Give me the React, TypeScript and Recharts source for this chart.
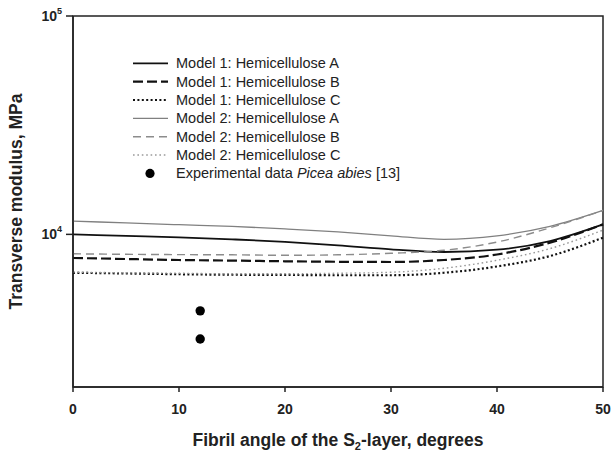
import React from "react";
import {
  ComposedChart,
  Line,
  Scatter,
  XAxis,
  YAxis,
  ReferenceArea,
} from "recharts";

// fibril angle (degrees)
const angles = [0, 5, 10, 15, 20, 25, 30, 35, 40, 45, 50];

// transverse modulus, MPa
const model1A = [10000, 9845, 9690, 9489, 9243, 8910, 8543, 8304, 8507, 9320, 11110];
const model1B = [7795, 7713, 7632, 7584, 7529, 7489, 7474, 7632, 8087, 9165, 11110];
const model1C = [6671, 6622, 6568, 6533, 6520, 6498, 6498, 6671, 7129, 7960, 9658];
const model2A = [11500, 11285, 11074, 10877, 10595, 10266, 9845, 9489, 9845, 10877, 12870];
const model2B = [8147, 8104, 8078, 8061, 8019, 8061, 8189, 8452, 9222, 10718, 12870];
const model2C = [6707, 6671, 6636, 6601, 6601, 6636, 6707, 6994, 7609, 8605, 10462];

const expAngles = [12, 12];
const expModulus = [4465, 3318];

const xTicks = [0, 10, 20, 30, 40, 50];
const yTicks = [10000, 100000];

const series = [
  { key: "m1A", name: "Model 1: Hemicellulose A", values: model1A, color: "#111", width: 1.8, dash: undefined },
  { key: "m1B", name: "Model 1: Hemicellulose B", values: model1B, color: "#111", width: 2.2, dash: "10 4" },
  { key: "m1C", name: "Model 1: Hemicellulose C", values: model1C, color: "#111", width: 2.2, dash: "2 2.4" },
  { key: "m2A", name: "Model 2: Hemicellulose A", values: model2A, color: "#808080", width: 1.3, dash: undefined },
  { key: "m2B", name: "Model 2: Hemicellulose B", values: model2B, color: "#8c8c8c", width: 1.4, dash: "8 5" },
  { key: "m2C", name: "Model 2: Hemicellulose C", values: model2C, color: "#9a9a9a", width: 1.4, dash: "1.6 2.8" },
];

const rows = angles.map((a, i) => {
  const row: Record<string, number> = { angle: a };
  series.forEach((s) => {
    row[s.key] = s.values[i];
  });
  return row;
});

const expData = expAngles.map((a, i) => ({ angle: a, modulus: expModulus[i] }));

const FONT = "'Liberation Sans', Arial, Helvetica, sans-serif";

const PowerTick = (props: any) => {
  const { x, y, payload } = props;
  const exp = Math.round(Math.log10(payload.value));
  return (
    <text x={x} y={y} dy={5} textAnchor="end" fontSize={14} fontWeight="bold" fill="#222" fontFamily={FONT}>
      <tspan>10</tspan>
      <tspan dy={-7} fontSize={9}>{exp}</tspan>
    </text>
  );
};

const XTitle = (props: any) => {
  const vb = props.viewBox;
  return (
    <text
      x={vb.x + vb.width / 2}
      y={vb.y + 59}
      textAnchor="middle"
      fontSize={17.5}
      fontWeight="bold"
      fill="#222"
      fontFamily={FONT}
    >
      <tspan>Fibril angle of the S</tspan>
      <tspan dy={4} fontSize={11}>2</tspan>
      <tspan dy={-4}>-layer, degrees</tspan>
    </text>
  );
};

const YTitle = (props: any) => {
  const vb = props.viewBox;
  const cx = 22;
  const cy = vb.y + vb.height / 2;
  return (
    <text
      x={cx}
      y={cy}
      transform={`rotate(-90 ${cx} ${cy})`}
      textAnchor="middle"
      fontSize={17.5}
      fontWeight="bold"
      fill="#222"
      fontFamily={FONT}
    >
      Transverse modulus, MPa
    </text>
  );
};

function LegendBox() {
  const rowY = (i: number) => 63.3 + i * 18.35;
  return (
    <svg
      width={612}
      height={452}
      style={{ position: "absolute", left: 0, top: 0, pointerEvents: "none" }}
    >
      {series.map((s, i) => (
        <g key={s.key}>
          <line
            x1={133}
            x2={168}
            y1={rowY(i)}
            y2={rowY(i)}
            stroke={s.color}
            strokeWidth={s.width}
            strokeDasharray={s.dash}
          />
          <text x={176} y={rowY(i) + 5} fontSize={14.5} fill="#222" fontFamily={FONT}>
            {s.name}
          </text>
        </g>
      ))}
      <circle cx={150} cy={rowY(6)} r={4.6} fill="#000" />
      <text x={176} y={rowY(6) + 5} fontSize={14.5} fill="#222" fontFamily={FONT}>
        <tspan>Experimental data </tspan>
        <tspan fontStyle="italic">Picea abies</tspan>
        <tspan> [13]</tspan>
      </text>
    </svg>
  );
}

export default function App() {
  return (
    <div
      style={{
        position: "fixed",
        left: 0,
        top: 0,
        width: 612,
        height: 452,
        background: "#fff",
        fontFamily: FONT,
      }}
    >
      <ComposedChart
        width={612}
        height={452}
        data={rows}
        margin={{ top: 16, right: 9, bottom: 0, left: 13 }}
      >
        <XAxis
          dataKey="angle"
          type="number"
          domain={[0, 50]}
          ticks={xTicks}
          height={65}
          tickSize={5}
          tickMargin={12}
          tickLine={{ stroke: "#222", strokeWidth: 1.5 }}
          axisLine={{ stroke: "#222", strokeWidth: 1.5 }}
          tick={{ fontSize: 14, fontWeight: "bold", fill: "#222", fontFamily: FONT }}
          label={<XTitle />}
        />
        <YAxis
          type="number"
          scale="log"
          domain={[2000, 100000]}
          allowDataOverflow
          ticks={yTicks}
          width={60}
          tickSize={7}
          tickMargin={4}
          tickLine={{ stroke: "#222", strokeWidth: 1.5 }}
          axisLine={{ stroke: "#222", strokeWidth: 1.5 }}
          tick={<PowerTick />}
          label={<YTitle />}
        />
        <ReferenceArea
          x1={0}
          x2={50}
          y1={2000}
          y2={100000}
          fill="none"
          fillOpacity={0}
          stroke="#222"
          strokeWidth={1.5}
        />
        {series.map((s) => (
          <Line
            key={s.key}
            dataKey={s.key}
            name={s.name}
            type="monotone"
            stroke={s.color}
            strokeWidth={s.width}
            strokeDasharray={s.dash}
            dot={false}
            activeDot={false}
            isAnimationActive={false}
          />
        ))}
        <Scatter
          data={expData}
          dataKey="modulus"
          name="Experimental data Picea abies [13]"
          fill="#000"
          shape={(p: any) => <circle cx={p.cx} cy={p.cy} r={4.7} fill="#000" />}
          isAnimationActive={false}
        />
      </ComposedChart>
      <LegendBox />
    </div>
  );
}
